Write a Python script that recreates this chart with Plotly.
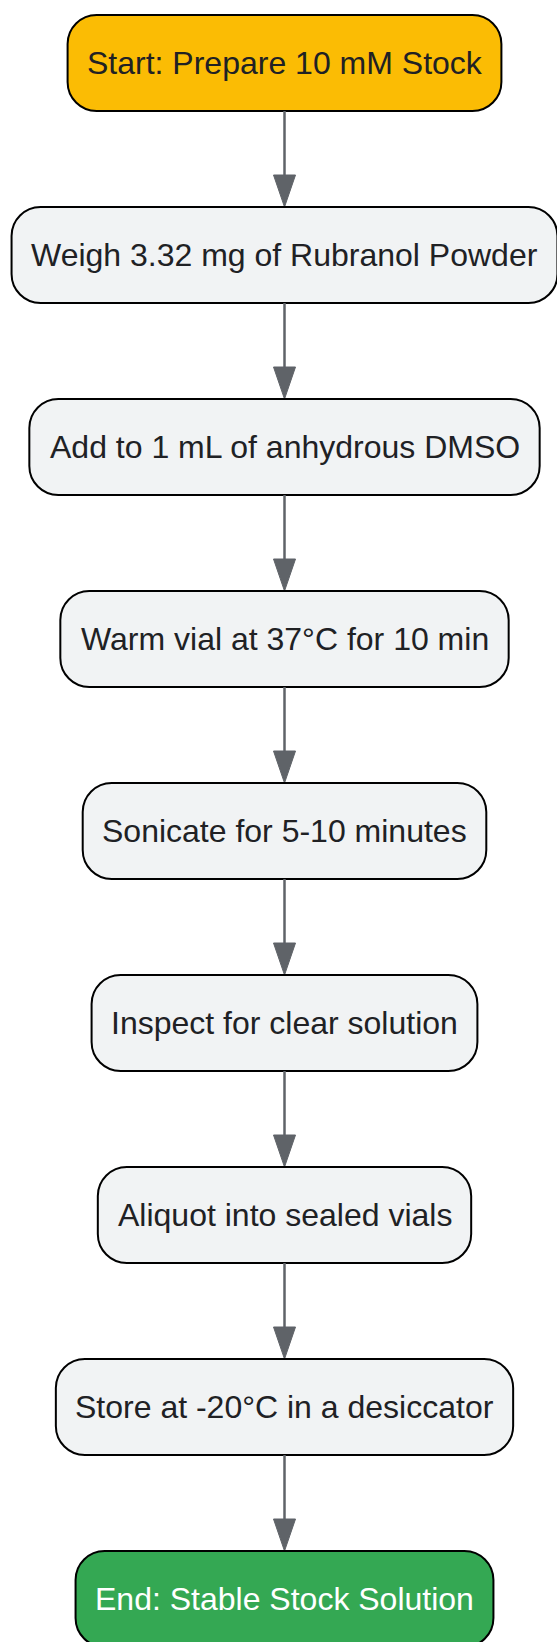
import plotly.graph_objects as go

# ---- data ----
steps = [
    "Start: Prepare 10 mM Stock",
    "Weigh 3.32 mg of Rubranol Powder",
    "Add to 1 mL of anhydrous DMSO",
    "Warm vial at 37°C for 10 min",
    "Sonicate for 5-10 minutes",
    "Inspect for clear solution",
    "Aliquot into sealed vials",
    "Store at -20°C in a desiccator",
    "End: Stable Stock Solution",
]
kinds = ["start", "process", "process", "process", "process",
         "process", "process", "process", "end"]

# ---- style ----
W, H = 557, 1642
CX = 284.5
TOP = 15
STEP = 192
BOX_H = 96
PAD = 19.5
RADIUS = 29
FONT_SIZE = 32
FONT = "Arial, Liberation Sans, sans-serif"
FILL = {"start": "#FBBC04", "process": "#F1F3F4", "end": "#34A853"}
TEXT_COL = {"start": "#202124", "process": "#202124", "end": "#FFFFFF"}
BORDER = "#000000"
EDGE = "#5F6368"
HEAD_H, HEAD_W = 32, 22

# Arial advance widths (per 1000 em) for measuring labels
_w = {" ": 278, "-": 333, ".": 278, ":": 278, "°": 400}
_w.update({d: 556 for d in "0123456789"})
_w.update(dict(zip("ABCDEFGHIJKLMNOPQRSTUVWXYZ",
                   [667, 667, 722, 722, 667, 611, 778, 722, 278, 500, 667, 556, 833,
                    722, 778, 667, 778, 722, 667, 611, 722, 667, 944, 667, 667, 611])))
_w.update(dict(zip("abcdefghijklmnopqrstuvwxyz",
                   [556, 556, 500, 556, 556, 278, 556, 556, 222, 222, 500, 222, 833,
                    556, 556, 556, 556, 333, 500, 278, 556, 500, 722, 500, 500, 500])))


def text_width(s):
    return sum(_w.get(c, 556) for c in s) * FONT_SIZE / 1000.0


def rounded_rect(x0, y0, x1, y1, r):
    k = 0.5523 * r
    return (f"M{x0 + r},{y0} L{x1 - r},{y0} "
            f"C{x1 - r + k},{y0} {x1},{y0 + r - k} {x1},{y0 + r} "
            f"L{x1},{y1 - r} "
            f"C{x1},{y1 - r + k} {x1 - r + k},{y1} {x1 - r},{y1} "
            f"L{x0 + r},{y1} "
            f"C{x0 + r - k},{y1} {x0},{y1 - r + k} {x0},{y1 - r} "
            f"L{x0},{y0 + r} "
            f"C{x0},{y0 + r - k} {x0 + r - k},{y0} {x0 + r},{y0} Z")


fig = go.Figure()
shapes, annotations = [], []

for i, (label, kind) in enumerate(zip(steps, kinds)):
    y0 = TOP + i * STEP
    y1 = y0 + BOX_H
    half = text_width(label) / 2 + PAD
    x0, x1 = CX - half, CX + half
    shapes.append(dict(type="path", path=rounded_rect(x0, y0, x1, y1, RADIUS),
                       xref="x", yref="y", fillcolor=FILL[kind],
                       line=dict(color=BORDER, width=2), layer="above"))
    annotations.append(dict(x=CX, y=(y0 + y1) / 2, xref="x", yref="y",
                            text=label, showarrow=False, xanchor="center",
                            yanchor="middle",
                            font=dict(family=FONT, size=FONT_SIZE,
                                      color=TEXT_COL[kind])))
    if i < len(steps) - 1:
        tip = TOP + (i + 1) * STEP
        base = tip - HEAD_H
        shapes.append(dict(type="line", x0=CX, x1=CX, y0=y1, y1=base + 2,
                           xref="x", yref="y",
                           line=dict(color=EDGE, width=2.5), layer="above"))
        shapes.append(dict(type="path",
                           path=f"M{CX - HEAD_W / 2},{base} L{CX + HEAD_W / 2},{base} L{CX},{tip} Z",
                           xref="x", yref="y", fillcolor=EDGE,
                           line=dict(color=EDGE, width=1), layer="above"))

fig.update_layout(
    width=W, height=H,
    margin=dict(l=0, r=0, t=0, b=0),
    paper_bgcolor="white", plot_bgcolor="white",
    xaxis=dict(range=[0, W], visible=False, fixedrange=True),
    yaxis=dict(range=[H, 0], visible=False, fixedrange=True),
    shapes=shapes, annotations=annotations,
    showlegend=False,
)

fig.write_html("out.html", config={"displayModeBar": False},
               post_script="document.body.style.margin='0';document.body.style.overflow='hidden';")
